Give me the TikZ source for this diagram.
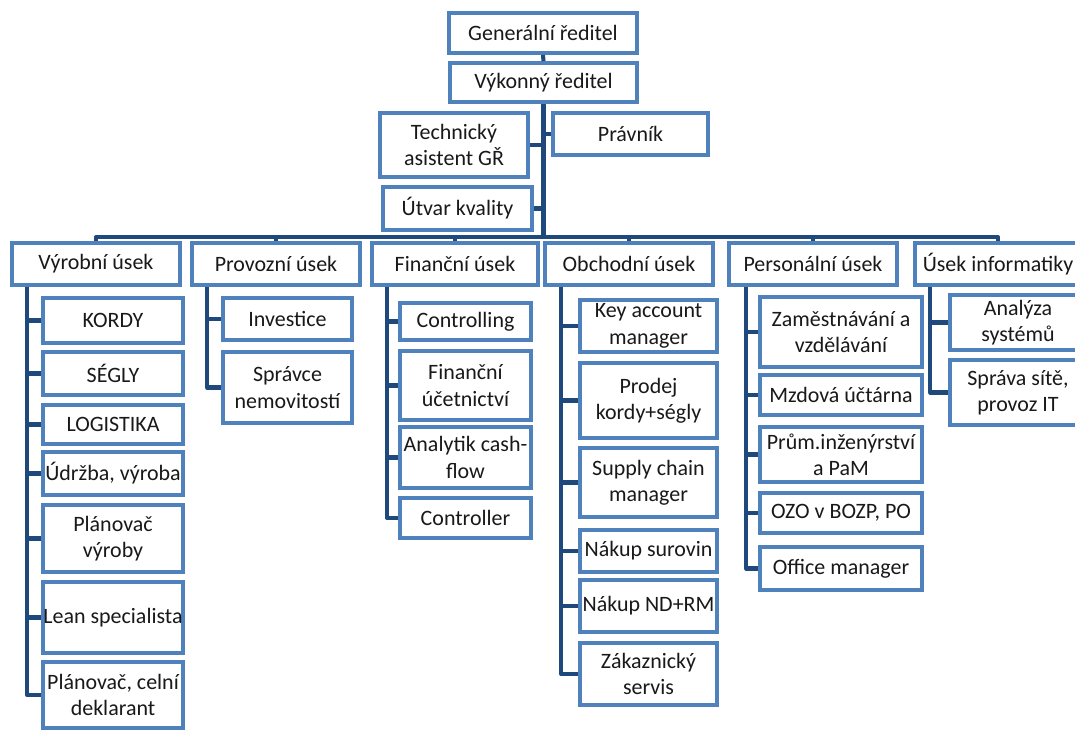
\documentclass[tikz,border=0pt]{standalone}
\usepackage{fontspec}
\setmainfont{Carlito}
\usepackage{tikz}
\usetikzlibrary{calc}
\definecolor{boxcol}{HTML}{4F81BD}
\definecolor{linkcol}{HTML}{1F497D}

\begin{document}
\begin{tikzpicture}[
  x=0.02cm, y=-0.02cm,
  unit/.style={
    draw=boxcol, fill=white, line width=2.2pt, inner sep=0pt,
    align=center, text=black!90, font=\fontsize{12.5}{15}\selectfont
  },
  link/.style={draw=linkcol, line width=2.3pt, line join=round},
]
\def\px{0.02cm}  % one pixel of the original

\useasboundingbox (0,0) rectangle (1075,731);
\clip (0,0) rectangle (1075,731);

% ===== Management =====
\node[unit, minimum width=188*\px, minimum height=40*\px] (gen)  at (543,33)    {Generální ředitel};
\node[unit, minimum width=187*\px, minimum height=39*\px] (vyk)  at (543.5,82.5) {Výkonný ředitel};
\node[unit, minimum width=148*\px, minimum height=64*\px] (tech) at (454,145)   {Technický\\asistent GŘ};
\node[unit, minimum width=155*\px, minimum height=42*\px] (prav) at (630.5,134) {Právník};
\node[unit, minimum width=149*\px, minimum height=43*\px] (kval) at (457.5,208.5) {Útvar kvality};

\coordinate (bus) at (543,237);

\draw[link] (gen.south) -- (vyk.north);
\draw[link] (vyk.south) -- (vyk.south |- bus);
\draw[link] (tech.east) -- (tech.east -| bus);
\draw[link] (prav.west) -- (prav.west -| bus);
\draw[link] (kval.east) -- (kval.east -| bus);

% ===== Divisions (row at y 243..285) =====
\foreach \n/\xa/\xb/\t in {vyr/12/180/Výrobní úsek, prov/192/360/Provozní úsek,
    fin/372/538/Finanční úsek, obch/545/713/Obchodní úsek,
    pers/729/897/Personální úsek, inf/915/1081/Úsek informatiky}{
  \node[unit, minimum width={(\xb-\xa)*\px}, minimum height=42*\px]
    (\n) at ({(\xa+\xb)/2}, 264) {\t};
}

\draw[link] (vyr.north) |- (bus) -| (inf.north);
\foreach \d in {prov,fin,obch,pers}{ \draw[link] (bus -| \d.north) -- (\d.north); }

% ===== Výrobní úsek =====
\foreach \n/\ya/\yb/\t in {kordy/298/343/KORDY, segly/352/395/SÉGLY,
    logist/405/444/LOGISTIKA, udrz/452/495/{Údržba, výroba},
    planv/505/572/{Plánovač\\výroby}, lean/582/653/Lean specialista,
    celni/662/728/{Plánovač, celní\\deklarant}}{
  \node[unit, minimum width=140*\px, minimum height={(\yb-\ya)*\px}]
    (\n) at (113, {(\ya+\yb)/2}) {\t};
  \draw[link] ($(vyr.south west)+(17,0)$) |- (\n.west);
}

% ===== Provozní úsek =====
\foreach \n/\ya/\yb/\t in {invest/298/340/Investice,
    spravce/352/423/{Správce\\nemovitostí}}{
  \node[unit, minimum width=129*\px, minimum height={(\yb-\ya)*\px}]
    (\n) at (287.5, {(\ya+\yb)/2}) {\t};
  \draw[link] ($(prov.south west)+(17,0)$) |- (\n.west);
}

% ===== Finanční úsek =====
\foreach \n/\ya/\yb/\t in {ctrl/303/340/Controlling,
    ucet/351/420/{Finanční\\účetnictví}, cash/427/488/{Analytik cash-\\flow},
    ctlr/498/538/Controller}{
  \node[unit, minimum width=131*\px, minimum height={(\yb-\ya)*\px}]
    (\n) at (465.5, {(\ya+\yb)/2}) {\t};
  \draw[link] ($(fin.south west)+(17,0)$) |- (\n.west);
}

% ===== Obchodní úsek =====
\foreach \n/\ya/\yb/\t in {keyacc/300/352/{Key account\\manager},
    prodej/363/438/{Prodej\\kordy+ségly}, supply/448/517/{Supply chain\\manager},
    nsur/530/572/Nákup surovin, nnd/580/632/Nákup ND+RM,
    zak/643/705/{Zákaznický\\servis}}{
  \node[unit, minimum width=137*\px, minimum height={(\yb-\ya)*\px}]
    (\n) at (648.5, {(\ya+\yb)/2}) {\t};
  \draw[link] ($(obch.south west)+(18,0)$) |- (\n.west);
}

% ===== Personální úsek =====
\foreach \n/\ya/\yb/\t in {zam/297/367/{Zaměstnávání a\\vzdělávání},
    mzdy/375/415/Mzdová účtárna, prum/427/482/{Prům.inženýrství\\a PaM},
    ozo/493/533/{OZO v BOZP, PO}, office/547/590/Office manager}{
  \node[unit, minimum width=162*\px, minimum height={(\yb-\ya)*\px}]
    (\n) at (841, {(\ya+\yb)/2}) {\t};
  \draw[link] ($(pers.south west)+(19,0)$) |- (\n.west);
}

% ===== Úsek informatiky =====
\foreach \n/\ya/\yb/\t in {anal/295/350/{Analýza\\systémů},
    sit/360/425/{Správa sítě,\\provoz IT}}{
  \node[unit, minimum width=136*\px, minimum height={(\yb-\ya)*\px}]
    (\n) at (1018, {(\ya+\yb)/2}) {\t};
  \draw[link] ($(inf.south west)+(17,0)$) |- (\n.west);
}

\end{tikzpicture}
\end{document}
